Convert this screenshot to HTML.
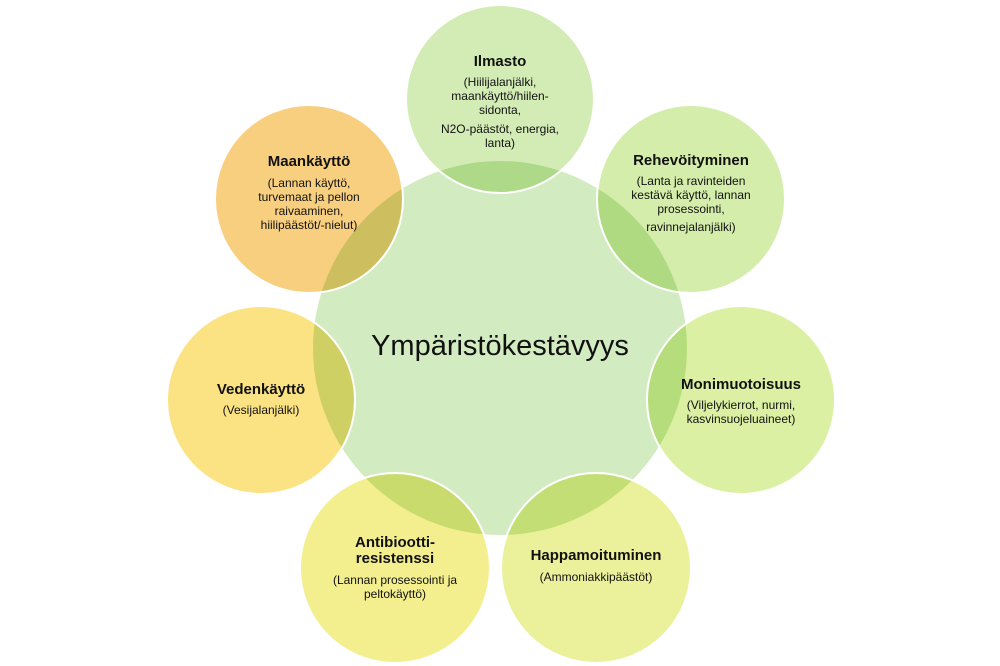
<!DOCTYPE html>
<html><head><meta charset="utf-8"><style>
html,body{margin:0;padding:0;background:#fff;}
svg{display:block}
.c{mix-blend-mode:multiply}
.b{fill:none;stroke:#fff;stroke-width:2}
text{font-family:"Liberation Sans",sans-serif;fill:#111;text-anchor:middle}
.t{font-size:15px;font-weight:bold}
.s{font-size:12px}
</style></head><body>
<svg width="1000" height="666" viewBox="0 0 1000 666" xmlns="http://www.w3.org/2000/svg">
<circle cx="500" cy="348" r="187" fill="#d3ebc1"/>
<circle class="c" cx="500" cy="99" r="94" fill="#d3ecb5"/>
<circle class="c" cx="691" cy="199" r="94" fill="#d4edaa"/>
<circle class="c" cx="741" cy="400" r="94" fill="#dcf0a4"/>
<circle class="c" cx="596" cy="568" r="95" fill="#ebf19a"/>
<circle class="c" cx="395" cy="568" r="95" fill="#f3ee8e"/>
<circle class="c" cx="261" cy="400" r="94" fill="#fbe283"/>
<circle class="c" cx="309" cy="199" r="94" fill="#f8cf7e"/>
<circle class="b" cx="500" cy="99" r="94"/>
<circle class="b" cx="691" cy="199" r="94"/>
<circle class="b" cx="741" cy="400" r="94"/>
<circle class="b" cx="596" cy="568" r="95"/>
<circle class="b" cx="395" cy="568" r="95"/>
<circle class="b" cx="261" cy="400" r="94"/>
<circle class="b" cx="309" cy="199" r="94"/>
<text x="500" y="355" style="font-size:29px">Ympäristökestävyys</text>
<text class="t" x="500" y="66">Ilmasto</text>
<text class="s" x="500" y="86">(Hiilijalanjälki,</text>
<text class="s" x="500" y="100">maankäyttö/hiilen-</text>
<text class="s" x="500" y="114">sidonta,</text>
<text class="s" x="500" y="133">N2O-päästöt, energia,</text>
<text class="s" x="500" y="147">lanta)</text>
<text class="t" x="691" y="165">Rehevöityminen</text>
<text class="s" x="691" y="185">(Lanta ja ravinteiden</text>
<text class="s" x="691" y="199">kestävä käyttö, lannan</text>
<text class="s" x="691" y="213">prosessointi,</text>
<text class="s" x="691" y="231">ravinnejalanjälki)</text>
<text class="t" x="741" y="389">Monimuotoisuus</text>
<text class="s" x="741" y="409">(Viljelykierrot, nurmi,</text>
<text class="s" x="741" y="423">kasvinsuojeluaineet)</text>
<text class="t" x="596" y="560">Happamoituminen</text>
<text class="s" x="596" y="581">(Ammoniakkipäästöt)</text>
<text class="t" x="395" y="547">Antibiootti-</text>
<text class="t" x="395" y="563">resistenssi</text>
<text class="s" x="395" y="584">(Lannan prosessointi ja</text>
<text class="s" x="395" y="598">peltokäyttö)</text>
<text class="t" x="261" y="394">Vedenkäyttö</text>
<text class="s" x="261" y="414">(Vesijalanjälki)</text>
<text class="t" x="309" y="166">Maankäyttö</text>
<text class="s" x="309" y="187">(Lannan käyttö,</text>
<text class="s" x="309" y="201">turvemaat ja pellon</text>
<text class="s" x="309" y="215">raivaaminen,</text>
<text class="s" x="309" y="229">hiilipäästöt/-nielut)</text>
</svg>
</body></html>
